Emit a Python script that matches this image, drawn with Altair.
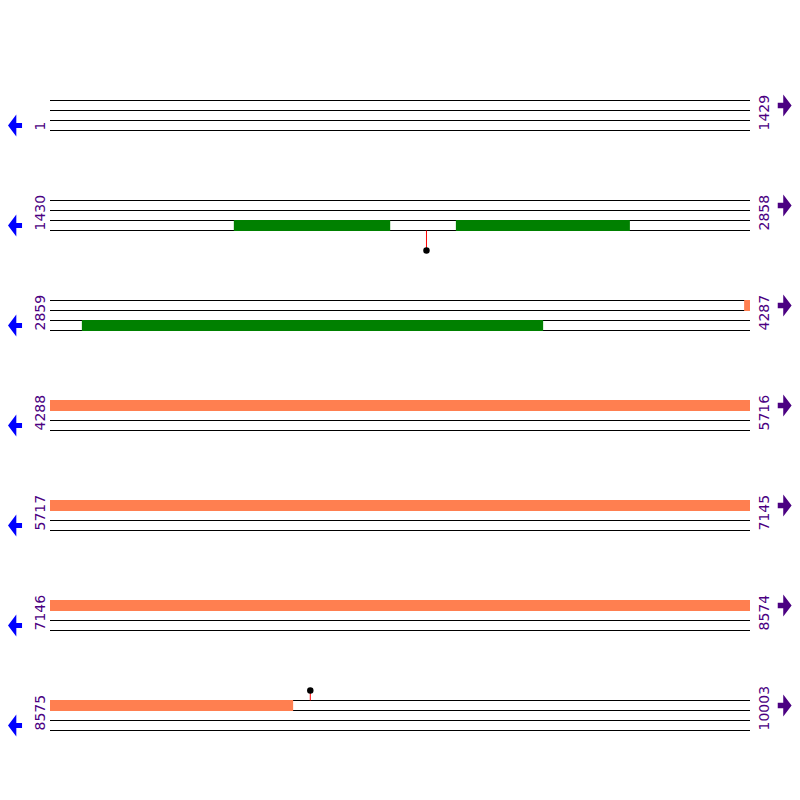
import altair as alt
import pandas as pd

# ---- data ----
row_start = [1, 1430, 2859, 4288, 5717, 7146, 8575]
row_end = [1429, 2858, 4287, 5716, 7145, 8574, 10003]
lines_per_row = 4

feature_start = [1805, 2258, 2924, 4275]
feature_end = [2124, 2613, 3865, 9071]
feature_lane = [2, 2, 2, 0]
feature_color = ["#008000", "#008000", "#008000", "#FF7F50"]

site_pos = [2198, 9106]
site_line = [3, 0]          # which line of the row the site sits on
site_dot = [2.0, -1.0]      # dot distance from the line (in lane units)

TEXT_COLOR = "#4B0082"
LEFT_ARROW = "#0000FF"
RIGHT_ARROW = "#4B0082"

# ---- tables ----
line_rows = []
for r, (s, e) in enumerate(zip(row_start, row_end)):
    for k in range(lines_per_row):
        line_rows.append({"x": 0, "x2": e - s, "y": r * 10 + k})
lines_df = pd.DataFrame(line_rows)

feat_rows = []
for fs, fe, lane, col in zip(feature_start, feature_end, feature_lane, feature_color):
    for r, (s, e) in enumerate(zip(row_start, row_end)):
        a, b = max(fs, s), min(fe, e)
        if a <= b:
            feat_rows.append({"x": a - s, "x2": b - s,
                              "y": r * 10 + lane, "y2": r * 10 + lane + 1,
                              "color": col})
feat_df = pd.DataFrame(feat_rows)

site_rows = []
for p, ln, d in zip(site_pos, site_line, site_dot):
    for r, (s, e) in enumerate(zip(row_start, row_end)):
        if s <= p <= e:
            site_rows.append({"x": p - s, "y": r * 10 + ln, "ydot": r * 10 + ln + d})
site_df = pd.DataFrame(site_rows)

label_rows = []
for r, (s, e) in enumerate(zip(row_start, row_end)):
    label_rows.append({"x": 0, "x_end": e - s, "y": r * 10 + 3,
                       "start": str(s), "end": str(e),
                       "y_left_arrow": r * 10 + 2.5, "y_right_arrow": r * 10 + 0.5})
label_df = pd.DataFrame(label_rows)

# ---- scales ----
W, H = 784, 780
PX_PER_BASE = 700 / 1428
x0 = -42 / PX_PER_BASE
xs = alt.Scale(domain=[x0, x0 + W / PX_PER_BASE], zero=False, nice=False)
ys = alt.Scale(domain=[-9.25, -9.25 + H / 10], zero=False, nice=False, reverse=True)

X = lambda f: alt.X(f, type="quantitative", scale=xs, axis=None)
Y = lambda f: alt.Y(f, type="quantitative", scale=ys, axis=None)

lines = alt.Chart(lines_df).mark_rule(color="black", strokeWidth=1).encode(
    x=X("x"), x2="x2", y=Y("y"))

feats = alt.Chart(feat_df).mark_rect(yOffset=-0.5, y2Offset=0.5).encode(
    x=X("x"), x2="x2", y=Y("y"), y2="y2",
    color=alt.Color("color:N", scale=None))

site_rule = alt.Chart(site_df).mark_rule(color="#FF0000", strokeWidth=1).encode(
    x=X("x"), y=Y("y"), y2="ydot")

site_dot_mark = alt.Chart(site_df).mark_point(
    filled=True, color="black", size=42, opacity=1, shape="circle").encode(
    x=X("x"), y=Y("ydot"))

start_labels = alt.Chart(label_df).mark_text(
    angle=270, align="left", baseline="middle", font="DejaVu Sans",
    fontSize=14, color=TEXT_COLOR, xOffset=-9).encode(
    x=X("x"), y=Y("y"), text="start:N")

end_labels = alt.Chart(label_df).mark_text(
    angle=270, align="left", baseline="middle", font="DejaVu Sans",
    fontSize=14, color=TEXT_COLOR, xOffset=15).encode(
    x=X("x_end"), y=Y("y"), text="end:N")

left_path = "M -0.64 0 L 0.12 -1.0 L 0.12 -0.23 L 0.64 -0.23 L 0.64 0.23 L 0.12 0.23 L 0.12 1.0 Z"
right_path = "M 0.6 0 L -0.16 -1.0 L -0.16 -0.25 L -0.66 -0.25 L -0.66 0.25 L -0.16 0.25 L -0.16 1.0 Z"

left_arrows = alt.Chart(label_df).mark_point(
    shape=left_path, filled=True, color=LEFT_ARROW, size=484, opacity=1,
    strokeWidth=0, xOffset=-35).encode(
    x=X("x"), y=Y("y_left_arrow"))

right_arrows = alt.Chart(label_df).mark_point(
    shape=right_path, filled=True, color=RIGHT_ARROW, size=484, opacity=1,
    strokeWidth=0, xOffset=35).encode(
    x=X("x_end"), y=Y("y_right_arrow"))

chart = alt.layer(
    lines, feats, site_rule, site_dot_mark, start_labels, end_labels,
    left_arrows, right_arrows
).properties(
    width=W, height=H, padding=0,
    autosize=alt.AutoSizeParams(type="none")
).configure_view(stroke=None)

chart.save("out.html", embed_options={"renderer": "svg", "actions": False})
